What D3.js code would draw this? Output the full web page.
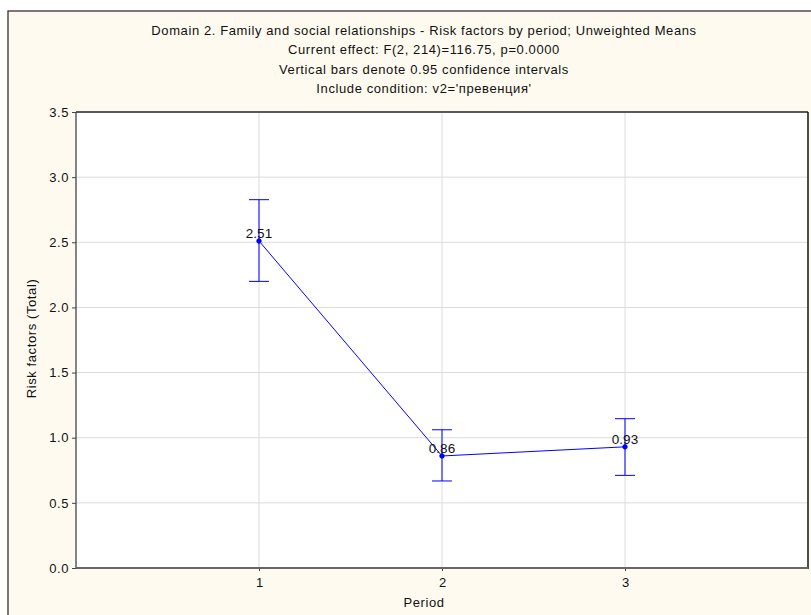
<!DOCTYPE html>
<html><head><meta charset="utf-8">
<script src="https://cdn.jsdelivr.net/npm/d3@7"></script>
<style>
html,body{margin:0;padding:0;background:#fff;}
text{font-family:"Liberation Sans",Arial,sans-serif;}
</style></head>
<body>
<svg id="chart" width="811" height="615"></svg>
<script>
const periods = [1, 2, 3];
const means = [2.51, 0.86, 0.93];
const ciLow = [2.20, 0.668, 0.711];
const ciHigh = [2.827, 1.061, 1.146];
const yTicks = [0.0, 0.5, 1.0, 1.5, 2.0, 2.5, 3.0, 3.5];
const xTicks = [1, 2, 3];
const titleLines = [
  "Domain 2. Family and social relationships -  Risk factors by period; Unweighted Means",
  "Current effect: F(2, 214)=116.75, p=0.0000",
  "Vertical bars denote 0.95 confidence intervals",
  "Include condition: v2='превенция'"
];

const svg = d3.select("#chart");
const W = 811, H = 615;
const L = 76, R = 808, T = 112, B = 568;
const LS = 0.6;

// outer frame
svg.append("rect").attr("x", 8).attr("y", 11).attr("width", W).attr("height", H)
  .attr("fill", "#fefaef").attr("stroke", "#333").attr("stroke-width", 1.3);

const x = d3.scaleLinear().domain([0, 4]).range([L, R]);
const y = d3.scaleLinear().domain([0, 3.5]).range([B, T]);

// titles
svg.append("g").selectAll("text").data(titleLines).join("text")
  .attr("x", 424).attr("y", (d, i) => 35 + i * 19.3)
  .attr("text-anchor", "middle").attr("font-size", 13).attr("letter-spacing", LS)
  .attr("fill", "#111").text(d => d);

// plot area
svg.append("rect").attr("x", L).attr("y", T).attr("width", R - L).attr("height", B - T)
  .attr("fill", "#fff");

// grid
svg.append("g").selectAll("line").data(yTicks.slice(1, -1)).join("line")
  .attr("x1", L).attr("x2", R).attr("y1", d => y(d)).attr("y2", d => y(d))
  .attr("stroke", "#dcdcdc").attr("stroke-width", 1);
svg.append("g").selectAll("line").data(xTicks).join("line")
  .attr("y1", T).attr("y2", B).attr("x1", d => x(d)).attr("x2", d => x(d))
  .attr("stroke", "#dcdcdc").attr("stroke-width", 1);

// axes
const yAxis = d3.axisLeft(y).tickValues(yTicks).tickFormat(d3.format(".1f")).tickSize(4).tickPadding(3);
const gy = svg.append("g").attr("transform", `translate(${L},0)`).call(yAxis);
gy.select(".domain").remove();
gy.selectAll("text").attr("font-size", 13).attr("letter-spacing", LS).attr("fill", "#111")
  .attr("font-family", "'Liberation Sans',Arial,sans-serif");
gy.selectAll("line").attr("stroke", "#444");

const xAxis = d3.axisBottom(x).tickValues(xTicks).tickFormat(d3.format("d")).tickSize(3).tickPadding(7);
const gx = svg.append("g").attr("transform", `translate(0,${B})`).call(xAxis);
gx.select(".domain").remove();
gx.selectAll("text").attr("font-size", 13).attr("fill", "#111")
  .attr("font-family", "'Liberation Sans',Arial,sans-serif");
gx.selectAll("line").attr("stroke", "#444");

// plot border
svg.append("line").attr("x1", L).attr("x2", R).attr("y1", T).attr("y2", T).attr("stroke", "#222").attr("stroke-width", 1.3);
svg.append("line").attr("x1", L).attr("x2", L).attr("y1", T).attr("y2", B).attr("stroke", "#444").attr("stroke-width", 1.3);
svg.append("line").attr("x1", R).attr("x2", R).attr("y1", T).attr("y2", B + 1).attr("stroke", "#111").attr("stroke-width", 1.5);
svg.append("line").attr("x1", L).attr("x2", R).attr("y1", B).attr("y2", B).attr("stroke", "#666").attr("stroke-width", 2);

// axis titles
svg.append("text").attr("x", 424).attr("y", 607).attr("text-anchor", "middle")
  .attr("font-size", 13).attr("letter-spacing", LS).attr("fill", "#111").text("Period");
svg.append("text").attr("transform", `translate(36,${338.5}) rotate(-90)`)
  .attr("text-anchor", "middle").attr("font-size", 13).attr("letter-spacing", LS)
  .attr("fill", "#111").text("Risk factors (Total)");

const data = periods.map((p, i) => ({p, m: means[i], lo: ciLow[i], hi: ciHigh[i]}));
const blue = "#0000ff";

// error bars
const eb = svg.append("g").attr("stroke", blue).attr("stroke-width", 1);
eb.selectAll("line.v").data(data).join("line").attr("class", "v")
  .attr("x1", d => x(d.p)).attr("x2", d => x(d.p)).attr("y1", d => y(d.lo)).attr("y2", d => y(d.hi));
eb.selectAll("line.t").data(data).join("line").attr("class", "t")
  .attr("x1", d => x(d.p) - 10).attr("x2", d => x(d.p) + 10).attr("y1", d => y(d.hi)).attr("y2", d => y(d.hi));
eb.selectAll("line.b").data(data).join("line").attr("class", "b")
  .attr("x1", d => x(d.p) - 10).attr("x2", d => x(d.p) + 10).attr("y1", d => y(d.lo)).attr("y2", d => y(d.lo));

// line
svg.append("path").datum(data)
  .attr("d", d3.line().x(d => x(d.p)).y(d => y(d.m)))
  .attr("fill", "none").attr("stroke", blue).attr("stroke-width", 1);

// points
svg.append("g").selectAll("circle").data(data).join("circle")
  .attr("cx", d => x(d.p)).attr("cy", d => y(d.m)).attr("r", 2.3)
  .attr("fill", blue).attr("stroke", blue).attr("stroke-width", 0.8);

// labels
svg.append("g").selectAll("text").data(data).join("text")
  .attr("x", d => x(d.p)).attr("y", d => y(d.m) - 3)
  .attr("text-anchor", "middle").attr("font-size", 13.5).attr("fill", "#111")
  .text(d => d.m.toFixed(2));
</script>
</body></html>
